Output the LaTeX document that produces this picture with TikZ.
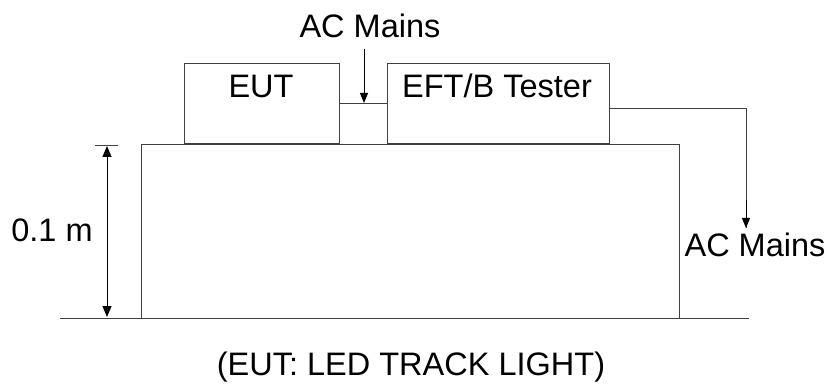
\documentclass[tikz,border=0pt]{standalone}
\usepackage{fontspec}
\setmainfont{Liberation Sans}
\usetikzlibrary{arrows.meta,calc}

\begin{document}
\begin{tikzpicture}[x=1pt,y=-1pt,line width=1pt,
  box/.style={draw=black!75,minimum width=#1,minimum height=80pt,inner sep=0pt},
  txt/.style={font=\fontsize{32.5}{38}\selectfont,inner sep=0pt},
  tip/.style={-{Triangle[width=8pt,length=10pt]}}]
\useasboundingbox (0,0) rectangle (827,387);
\node[draw=black!75,minimum width=538pt,minimum height=173pt,inner sep=0pt] (table) at (410,231.5) {};
\fill[white] (table.south west) rectangle ([yshift=1pt]table.south east);
\draw[black!75] (60,318) -- (749,318);
\node[box=155pt] (eut) at (261.5,104) {};
\node[box=222pt] (tester) at (498,104) {};
\node[txt] (euttext) at (261,86) {EUT};
\node[txt] (testertext) at (497,86) {EFT/B Tester};
\draw[black!75] (eut.east) -- (tester.west);
\node[txt] (acin) at (370,26) {AC Mains};
\coordinate (feed) at (364,103);
\draw[tip] (364,49) -- (feed);
\node[txt] (acout) at (755,245) {AC Mains};
\coordinate (outtip) at (746,228);
\draw[black!75] ([yshift=-5pt]tester.east) -| (outtip);
\draw[tip] (746,200) -- (outtip);
\draw[black!75] (95,145.5) -- (118,145.5);
\coordinate (dimtop) at (107,146);
\coordinate (dimbot) at (107,317);
\draw[{Triangle[width=9pt,length=11pt]}-{Triangle[width=9pt,length=11pt]}] (dimtop) -- (dimbot);
\node[txt] (height) at (52,230) {0.1 m};
\node[txt] (caption) at (411,367) {(EUT: LED TRACK LIGHT)};
\end{tikzpicture}
\end{document}
